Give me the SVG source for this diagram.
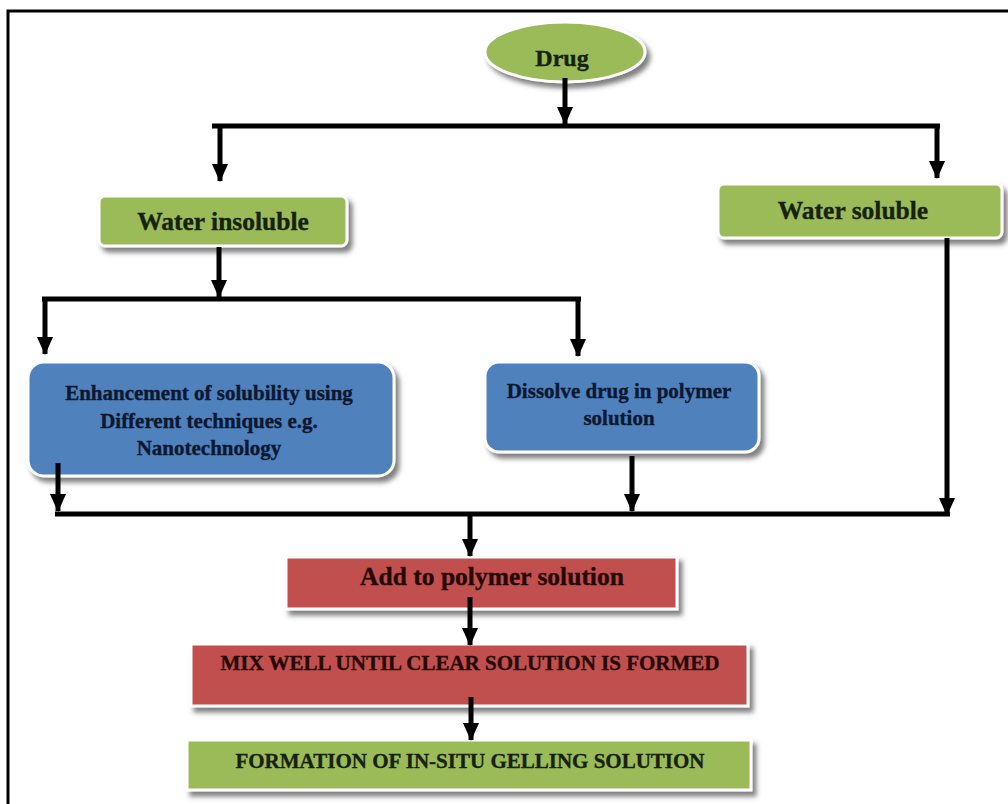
<svg xmlns="http://www.w3.org/2000/svg" width="1008" height="804" viewBox="0 0 1008 804">
  <style>
    .lbl { font-family: "Liberation Serif", "Times New Roman", serif; font-weight: bold; text-anchor: middle; stroke-width: 0.35; }
    .green { fill: #9bbb59; stroke: #ffffff; stroke-width: 3; }
    .blue { fill: #4f81bd; stroke: #ffffff; stroke-width: 3; }
    .red { fill: #c0504d; stroke: #ffffff; stroke-width: 3; }
    .tg { fill: #16220e; stroke: #16220e; }
    .tb { fill: #0c1830; stroke: #0c1830; }
    .tr { fill: #260707; stroke: #260707; }
    .wire { fill: none; stroke: #000000; stroke-width: 5; }
  </style>
  <defs>
    <filter id="shadow" x="-10%" y="-20%" width="125%" height="160%">
      <feDropShadow dx="4" dy="5" stdDeviation="2.5" flood-color="#555555" flood-opacity="0.75"/>
    </filter>
    <marker id="down" markerUnits="userSpaceOnUse" markerWidth="18" markerHeight="18" refX="9" refY="17" viewBox="0 0 18 18">
      <path d="M1,0 L17,0 L9,18 Z" fill="#000000"/>
    </marker>
  </defs>

  <rect width="1008" height="804" fill="#ffffff"/>
  <!-- outer frame (top and left edges) -->
  <path d="M8,804 V11 H1008" fill="none" stroke="#000000" stroke-width="3"/>

  <!-- nodes -->
  <g id="drug">
    <ellipse cx="565" cy="52" rx="80" ry="30" class="green" filter="url(#shadow)"/>
    <text x="562" y="66" class="lbl tg" font-size="24">Drug</text>
  </g>

  <g id="water-insoluble">
    <rect x="99" y="196" width="248" height="50" rx="6" class="green" filter="url(#shadow)"/>
    <text x="223" y="230" class="lbl tg" font-size="25.5">Water insoluble</text>
  </g>

  <g id="water-soluble">
    <rect x="718" y="184" width="284" height="54" rx="6" class="green" filter="url(#shadow)"/>
    <text x="853" y="219" class="lbl tg" font-size="25.5">Water soluble</text>
  </g>

  <g id="enhancement">
    <rect x="28" y="362" width="366" height="114" rx="16" class="blue" filter="url(#shadow)"/>
    <text x="209" y="400" class="lbl tb" font-size="21">Enhancement of solubility using</text>
    <text x="209" y="428" class="lbl tb" font-size="21">Different techniques e.g.</text>
    <text x="209" y="455" class="lbl tb" font-size="21">Nanotechnology</text>
  </g>

  <g id="dissolve">
    <rect x="485" y="362" width="274" height="90" rx="14" class="blue" filter="url(#shadow)"/>
    <text x="619" y="398" class="lbl tb" font-size="21">Dissolve drug in polymer</text>
    <text x="619" y="425" class="lbl tb" font-size="21">solution</text>
  </g>

  <g id="add-polymer">
    <rect x="286" y="557" width="391" height="52" class="red" filter="url(#shadow)"/>
    <text x="492" y="585" class="lbl tr" font-size="25.5">Add to polymer solution</text>
  </g>

  <g id="mix-well">
    <rect x="191" y="644" width="557" height="62" class="red" filter="url(#shadow)"/>
    <text x="470" y="670" class="lbl tr" font-size="21">MIX WELL UNTIL CLEAR SOLUTION IS FORMED</text>
  </g>

  <g id="formation">
    <rect x="187" y="740" width="564" height="50" class="green" filter="url(#shadow)"/>
    <text x="470" y="768" class="lbl tg" font-size="21">FORMATION OF IN-SITU GELLING SOLUTION</text>
  </g>

  <!-- connectors -->
  <g id="connectors">
    <line x1="565" y1="78" x2="565" y2="124" class="wire" marker-end="url(#down)"/>
    <line x1="212" y1="126" x2="940" y2="126" class="wire"/>
    <line x1="220" y1="126" x2="220" y2="181" class="wire" marker-end="url(#down)"/>
    <line x1="937" y1="126" x2="937" y2="178" class="wire" marker-end="url(#down)"/>

    <line x1="219" y1="247" x2="219" y2="297" class="wire" marker-end="url(#down)"/>
    <line x1="42" y1="299" x2="581" y2="299" class="wire"/>
    <line x1="45" y1="299" x2="45" y2="354" class="wire" marker-end="url(#down)"/>
    <line x1="578" y1="299" x2="578" y2="356" class="wire" marker-end="url(#down)"/>

    <line x1="58" y1="463" x2="58" y2="511" class="wire" marker-end="url(#down)"/>
    <line x1="632" y1="456" x2="632" y2="511" class="wire" marker-end="url(#down)"/>
    <line x1="947" y1="238" x2="947" y2="515" class="wire" marker-end="url(#down)"/>
    <line x1="55" y1="514" x2="950" y2="514" class="wire"/>
    <line x1="470" y1="514" x2="470" y2="556" class="wire" marker-end="url(#down)"/>

    <line x1="470" y1="597" x2="470" y2="645" class="wire" marker-end="url(#down)"/>
    <line x1="471" y1="697" x2="471" y2="740" class="wire" marker-end="url(#down)"/>
  </g>
</svg>
